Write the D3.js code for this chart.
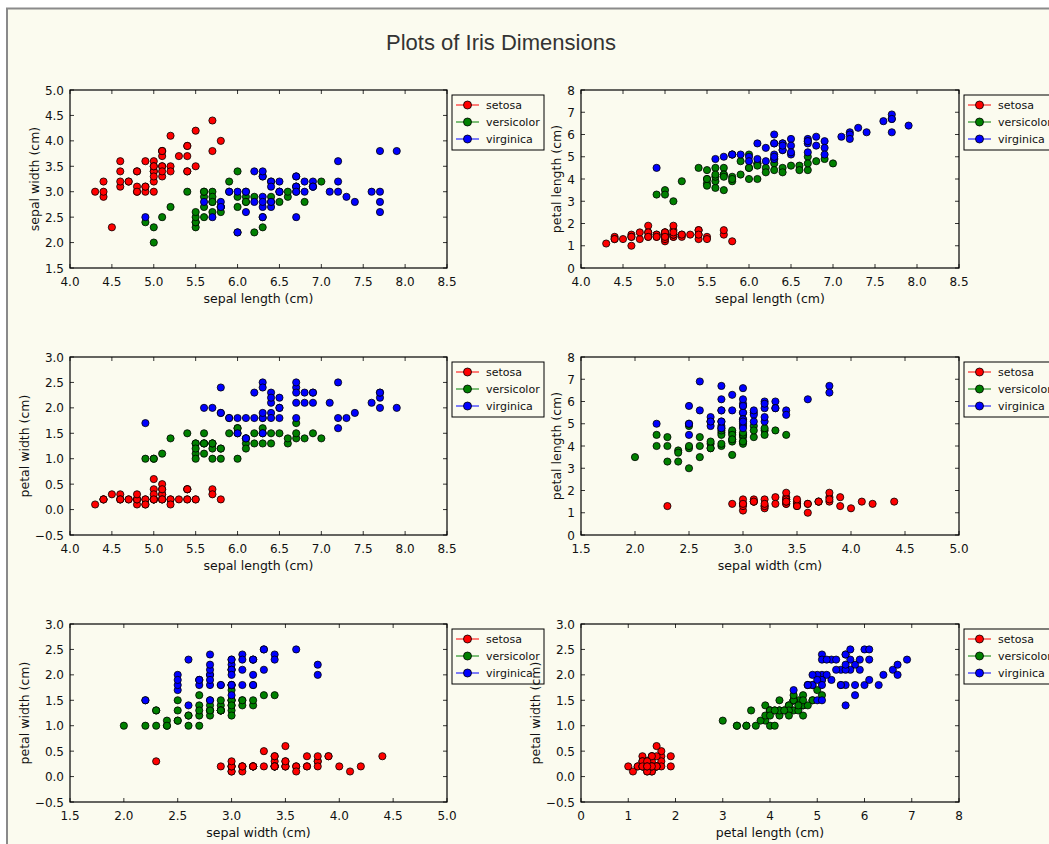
<!DOCTYPE html>
<html>
<head>
<meta charset="utf-8">
<script src="https://cdn.jsdelivr.net/npm/d3@7"></script>
<style>
  html, body { margin: 0; padding: 0; background: #ffffff; }
  svg { display: block; }
  .tick-label { font-family: "DejaVu Sans", sans-serif; font-size: 12px; fill: #111; }
  .axis-label { font-family: "DejaVu Sans", sans-serif; font-size: 12.5px; fill: #111; }
  .legend-text { font-family: "DejaVu Sans", sans-serif; font-size: 11px; fill: #111; }
</style>
</head>
<body>
<div id="chart"></div>
<script>
// iris measurements, one inner array per species (setosa, versicolor, virginica)
const species = ["setosa", "versicolor", "virginica"];

const sepalLength = [
    [5.1,4.9,4.7,4.6,5.0,5.4,4.6,5.0,4.4,4.9,5.4,4.8,4.8,4.3,5.8,5.7,5.4,5.1,5.7,5.1,5.4,5.1,4.6,5.1,4.8,5.0,5.0,5.2,5.2,4.7,4.8,5.4,5.2,5.5,4.9,5.0,5.5,4.9,4.4,5.1,5.0,4.5,4.4,5.0,5.1,4.8,5.1,4.6,5.3,5.0],
    [7.0,6.4,6.9,5.5,6.5,5.7,6.3,4.9,6.6,5.2,5.0,5.9,6.0,6.1,5.6,6.7,5.6,5.8,6.2,5.6,5.9,6.1,6.3,6.1,6.4,6.6,6.8,6.7,6.0,5.7,5.5,5.5,5.8,6.0,5.4,6.0,6.7,6.3,5.6,5.5,5.5,6.1,5.8,5.0,5.6,5.7,5.7,6.2,5.1,5.7],
    [6.3,5.8,7.1,6.3,6.5,7.6,4.9,7.3,6.7,7.2,6.5,6.4,6.8,5.7,5.8,6.4,6.5,7.7,7.7,6.0,6.9,5.6,7.7,6.3,6.7,7.2,6.2,6.1,6.4,7.2,7.4,7.9,6.4,6.3,6.1,7.7,6.3,6.4,6.0,6.9,6.7,6.9,5.8,6.8,6.7,6.7,6.3,6.5,6.2,5.9]
];
const sepalWidth = [
    [3.5,3.0,3.2,3.1,3.6,3.9,3.4,3.4,2.9,3.1,3.7,3.4,3.0,3.0,4.0,4.4,3.9,3.5,3.8,3.8,3.4,3.7,3.6,3.3,3.4,3.0,3.4,3.5,3.4,3.2,3.1,3.4,4.1,4.2,3.1,3.2,3.5,3.6,3.0,3.4,3.5,2.3,3.2,3.5,3.8,3.0,3.8,3.2,3.7,3.3],
    [3.2,3.2,3.1,2.3,2.8,2.8,3.3,2.4,2.9,2.7,2.0,3.0,2.2,2.9,2.9,3.1,3.0,2.7,2.2,2.5,3.2,2.8,2.5,2.8,2.9,3.0,2.8,3.0,2.9,2.6,2.4,2.4,2.7,2.7,3.0,3.4,3.1,2.3,3.0,2.5,2.6,3.0,2.6,2.3,2.7,3.0,2.9,2.9,2.5,2.8],
    [3.3,2.7,3.0,2.9,3.0,3.0,2.5,2.9,2.5,3.6,3.2,2.7,3.0,2.5,2.8,3.2,3.0,3.8,2.6,2.2,3.2,2.8,2.8,2.7,3.3,3.2,2.8,3.0,2.8,3.0,2.8,3.8,2.8,2.8,2.6,3.0,3.4,3.1,3.0,3.1,3.1,3.1,2.7,3.2,3.3,3.0,2.5,3.0,3.4,3.0]
];
const petalLength = [
    [1.4,1.4,1.3,1.5,1.4,1.7,1.4,1.5,1.4,1.5,1.5,1.6,1.4,1.1,1.2,1.5,1.3,1.4,1.7,1.5,1.7,1.5,1.0,1.7,1.9,1.6,1.6,1.5,1.4,1.6,1.6,1.5,1.5,1.4,1.5,1.2,1.3,1.4,1.3,1.5,1.3,1.3,1.3,1.6,1.9,1.4,1.6,1.4,1.5,1.4],
    [4.7,4.5,4.9,4.0,4.6,4.5,4.7,3.3,4.6,3.9,3.5,4.2,4.0,4.7,3.6,4.4,4.5,4.1,4.5,3.9,4.8,4.0,4.9,4.7,4.3,4.4,4.8,5.0,4.5,3.5,3.8,3.7,3.9,5.1,4.5,4.5,4.7,4.4,4.1,4.0,4.4,4.6,4.0,3.3,4.2,4.2,4.2,4.3,3.0,4.1],
    [6.0,5.1,5.9,5.6,5.8,6.6,4.5,6.3,5.8,6.1,5.1,5.3,5.5,5.0,5.1,5.3,5.5,6.7,6.9,5.0,5.7,4.9,6.7,4.9,5.7,6.0,4.8,4.9,5.6,5.8,6.1,6.4,5.6,5.1,5.6,6.1,5.6,5.5,4.8,5.4,5.6,5.1,5.1,5.9,5.7,5.2,5.0,5.2,5.4,5.1]
];
const petalWidth = [
    [0.2,0.2,0.2,0.2,0.2,0.4,0.3,0.2,0.2,0.1,0.2,0.2,0.1,0.1,0.2,0.4,0.4,0.3,0.3,0.3,0.2,0.4,0.2,0.5,0.2,0.2,0.4,0.2,0.2,0.2,0.2,0.4,0.1,0.2,0.2,0.2,0.2,0.1,0.2,0.2,0.3,0.3,0.2,0.6,0.4,0.3,0.2,0.2,0.2,0.2],
    [1.4,1.5,1.5,1.3,1.5,1.3,1.6,1.0,1.3,1.4,1.0,1.5,1.0,1.4,1.3,1.4,1.5,1.0,1.5,1.1,1.8,1.3,1.5,1.2,1.3,1.4,1.4,1.7,1.5,1.0,1.1,1.0,1.2,1.6,1.5,1.6,1.5,1.3,1.3,1.3,1.2,1.4,1.2,1.0,1.3,1.2,1.3,1.3,1.1,1.3],
    [2.5,1.9,2.1,1.8,2.2,2.1,1.7,1.8,1.8,2.5,2.0,1.9,2.1,2.0,2.4,2.3,1.8,2.2,2.3,1.5,2.3,2.0,2.0,1.8,2.1,1.8,1.8,1.8,2.1,1.6,1.9,2.0,2.2,1.5,1.4,2.3,2.4,1.8,1.8,2.1,2.4,2.3,1.9,2.3,2.5,2.3,1.9,2.0,2.3,1.8]
];

// tick values for each measurement
const sepalLengthTicks = [4.0, 4.5, 5.0, 5.5, 6.0, 6.5, 7.0, 7.5, 8.0, 8.5];
const sepalWidthTicks = [1.5, 2.0, 2.5, 3.0, 3.5, 4.0, 4.5, 5.0];
const petalLengthTicks = [0, 1, 2, 3, 4, 5, 6, 7, 8];
const petalWidthTicks = [-0.5, 0.0, 0.5, 1.0, 1.5, 2.0, 2.5, 3.0];

const dims = {
    sepalLength: { values: sepalLength, ticks: sepalLengthTicks, label: "sepal length (cm)", fmt: ".1f" },
    sepalWidth:  { values: sepalWidth,  ticks: sepalWidthTicks,  label: "sepal width (cm)",  fmt: ".1f" },
    petalLength: { values: petalLength, ticks: petalLengthTicks, label: "petal length (cm)", fmt: "d" },
    petalWidth:  { values: petalWidth,  ticks: petalWidthTicks,  label: "petal width (cm)",  fmt: ".1f" }
};

// subplot pairs in grid order (row-major)
const panels = [
    ["sepalLength", "sepalWidth"],
    ["sepalLength", "petalLength"],
    ["sepalLength", "petalWidth"],
    ["sepalWidth", "petalLength"],
    ["sepalWidth", "petalWidth"],
    ["petalLength", "petalWidth"]
];

const colors = ["#ff0000", "#008000", "#0000ff"];
const bg = "#fbfbef";

const W = 1049, H = 844;
const colX = [[70, 447], [581, 959]];
const rowY = [90, 357, 624];
const plotH = 178;

const svg = d3.select("#chart").append("svg")
    .attr("width", W)
    .attr("height", H);

// figure frame
svg.append("rect")
    .attr("x", 7).attr("y", 8.5)
    .attr("width", W + 20).attr("height", H + 20)
    .attr("fill", bg)
    .attr("stroke", "#8a8a8a")
    .attr("stroke-width", 2);

svg.append("text")
    .attr("x", 501).attr("y", 50)
    .attr("text-anchor", "middle")
    .style("font-family", "'Liberation Sans', Arial, sans-serif")
    .style("font-size", "22px")
    .style("fill", "#333")
    .text("Plots of Iris Dimensions");

const minus = s => s.replace("-", "\u2212");

panels.forEach(function(p, i) {
    let xd = dims[p[0]], yd = dims[p[1]];
    let col = i % 2, row = Math.floor(i / 2);
    let left = colX[col][0], right = colX[col][1];
    let top = rowY[row], bottom = top + plotH;

    let x = d3.scaleLinear()
        .domain(d3.extent(xd.ticks))
        .range([left, right]);
    let y = d3.scaleLinear()
        .domain(d3.extent(yd.ticks))
        .range([bottom, top]);

    let g = svg.append("g").attr("class", "panel");
    let xf = d3.format(xd.fmt), yf = d3.format(yd.fmt);

    g.append("rect")
        .attr("x", left).attr("y", top)
        .attr("width", right - left).attr("height", plotH)
        .attr("fill", bg);

    // inward ticks on all four sides
    let tickLen = 4;
    xd.ticks.forEach(function(t) {
        let px = x(t);
        g.append("line").attr("x1", px).attr("x2", px).attr("y1", bottom).attr("y2", bottom - tickLen)
            .attr("stroke", "#000").attr("stroke-width", 0.8);
        g.append("line").attr("x1", px).attr("x2", px).attr("y1", top).attr("y2", top + tickLen)
            .attr("stroke", "#000").attr("stroke-width", 0.8);
        g.append("text").attr("class", "tick-label")
            .attr("x", px).attr("y", bottom + 18)
            .attr("text-anchor", "middle")
            .text(minus(xf(t)));
    });

    let tickLeft = left;
    yd.ticks.forEach(function(t) {
        let py = y(t);
        g.append("line").attr("x1", left).attr("x2", left + tickLen).attr("y1", py).attr("y2", py)
            .attr("stroke", "#000").attr("stroke-width", 0.8);
        g.append("line").attr("x1", right).attr("x2", right - tickLen).attr("y1", py).attr("y2", py)
            .attr("stroke", "#000").attr("stroke-width", 0.8);
        let lbl = g.append("text").attr("class", "tick-label")
            .attr("x", left - 6).attr("y", py + 4.5)
            .attr("text-anchor", "end")
            .text(minus(yf(t)));
        tickLeft = Math.min(tickLeft, lbl.node().getBBox().x);
    });

    g.append("text").attr("class", "axis-label")
        .attr("x", (left + right) / 2).attr("y", bottom + 35)
        .attr("text-anchor", "middle")
        .text(xd.label);

    g.append("text").attr("class", "axis-label")
        .attr("transform", `translate(${tickLeft - 6}, ${(top + bottom) / 2}) rotate(-90)`)
        .attr("text-anchor", "middle")
        .text(yd.label);

    // points, species drawn in order so virginica ends on top
    species.forEach(function(s, si) {
        let pts = xd.values[si].map((v, k) => [v, yd.values[si][k]]);
        g.selectAll(null)
            .data(pts)
            .enter()
            .append("circle")
            .attr("cx", d => x(d[0]))
            .attr("cy", d => y(d[1]))
            .attr("r", 3.6)
            .attr("fill", colors[si])
            .attr("stroke", "#000")
            .attr("stroke-width", 0.8);
    });

    g.append("rect")
        .attr("x", left).attr("y", top)
        .attr("width", right - left).attr("height", plotH)
        .attr("fill", "none")
        .attr("stroke", "#000")
        .attr("stroke-width", 1.2);

    // legend
    let lx = right + 5, ly = top + 5;
    let leg = g.append("g").attr("transform", `translate(${lx}, ${ly})`);
    leg.append("rect")
        .attr("x", 0).attr("y", 0)
        .attr("width", 92).attr("height", 55)
        .attr("fill", bg)
        .attr("stroke", "#000")
        .attr("stroke-width", 1);
    species.forEach(function(s, si) {
        let cy = 10 + si * 17;
        leg.append("line")
            .attr("x1", 4).attr("x2", 27).attr("y1", cy).attr("y2", cy)
            .attr("stroke", colors[si]).attr("stroke-width", 1);
        leg.append("circle")
            .attr("cx", 15.5).attr("cy", cy).attr("r", 4)
            .attr("fill", colors[si])
            .attr("stroke", "#000")
            .attr("stroke-width", 0.8);
        leg.append("text").attr("class", "legend-text")
            .attr("x", 34).attr("y", cy + 4)
            .text(s);
    });
});
</script>
</body>
</html>
